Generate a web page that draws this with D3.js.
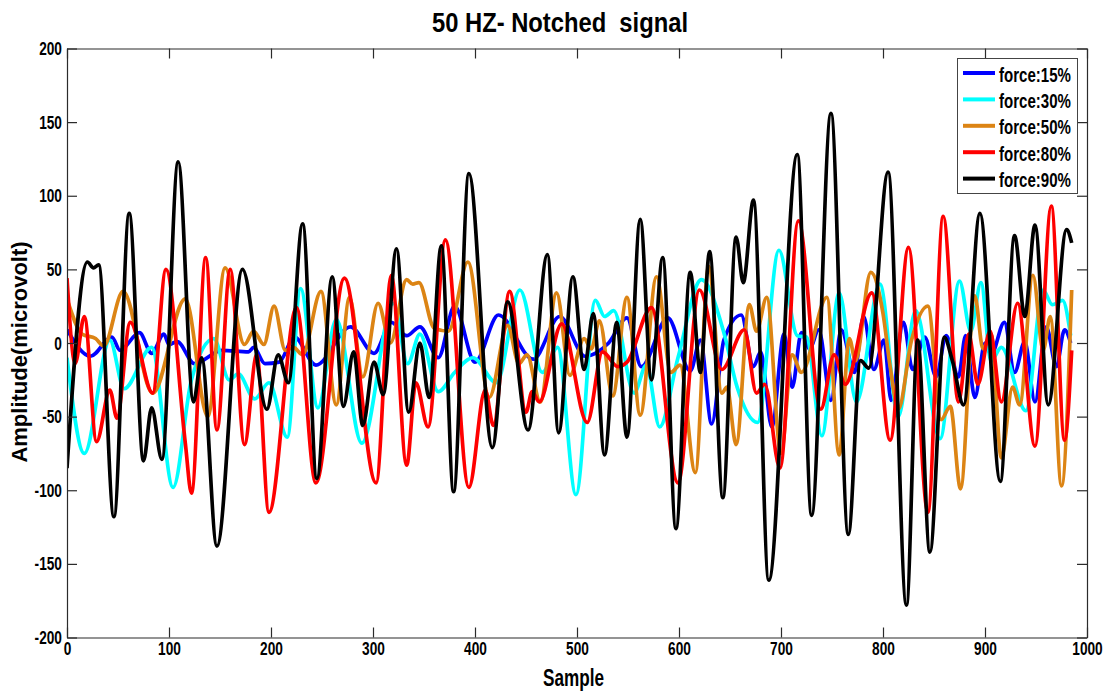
<!DOCTYPE html>
<html>
<head>
<meta charset="utf-8">
<script src="https://cdn.jsdelivr.net/npm/d3@7"></script>
<style>
  body { margin: 0; background: #fff; }
  text { font-family: "Liberation Sans", Arial, sans-serif; font-weight: bold; fill: #000; }
</style>
</head>
<body>
<script>
// Values: [sample, amplitude] at turning points
var force15 = [[0,9],[23,-9],[44,4],[52,-5],[71,7],[83,-7],[95,6],[100,-1],[108,1],[125,-14],[152,-5],[178,-6],[183,-3],[194,-14],[208,-13],[223,4],[244,-15],[278,11],[301,-7],[318,14],[333,5],[346,11],[364,-10],[380,25],[400,-13],[423,19],[457,-11],[483,18],[508,-9],[531,0],[549,17],[563,-16],[589,17],[611,-19],[621,2],[632,-55],[644,2],[661,19],[673,-16],[680,-6],[691,-57],[703,6],[711,-30],[720,7],[728,-4],[737,9],[749,-39],[759,9],[772,-20],[781,18],[791,-18],[801,2],[808,-39],[820,14],[829,-18],[841,4],[852,-23],[862,5],[874,-23],[881,5],[890,-37],[900,0],[906,-8],[919,14],[929,-20],[939,1],[949,-40],[960,11],[970,-16],[978,9],[984,0]];

var force30 = [[0,-10],[17,-75],[42,2],[56,-31],[83,-3],[104,-98],[122,-25],[144,3],[159,-25],[168,-21],[184,-38],[198,-27],[216,-64],[229,37],[246,-44],[264,16],[289,-68],[320,27],[334,-14],[346,6],[364,-33],[380,-20],[398,-10],[421,-27],[444,36],[466,-20],[481,-3],[499,-103],[518,29],[527,18],[536,22],[556,-34],[568,-15],[581,-57],[599,-10],[622,43],[644,7],[657,-30],[677,-54],[698,63],[716,5],[725,4],[740,-63],[757,34],[774,-40],[797,40],[815,-50],[832,22],[856,-65],[875,42],[886,8],[896,41],[906,-12],[916,-3],[940,-46],[957,36],[966,26],[976,29],[984,5]];

var force50 = [[0,30],[15,6],[28,3],[36,-2],[55,35],[84,-34],[116,30],[138,-50],[155,51],[174,-1],[183,8],[193,-1],[203,25],[214,-5],[222,-3],[231,-8],[249,35],[264,-42],[277,31],[290,-23],[305,27],[317,0],[333,43],[339,40],[345,41],[360,10],[374,8],[393,55],[414,-37],[432,12],[443,-14],[451,-8],[464,-40],[480,34],[493,-22],[507,3],[514,-4],[522,15],[535,-36],[549,31],[562,-49],[578,45],[592,-20],[601,-15],[616,-88],[629,52],[642,-34],[647,-30],[656,-69],[669,26],[676,8],[686,31],[700,-75],[711,-8],[720,-20],[745,31],[757,-76],[767,3],[773,-12],[788,48],[800,20],[807,-16],[815,-45],[828,2],[844,25],[857,-52],[866,-43],[876,-99],[890,32],[898,-4],[906,6],[916,-78],[927,-30],[934,-42],[947,46],[957,-5],[964,18],[975,-97],[985,36]];

var force80 = [[0,44],[8,-14],[17,18],[29,-67],[42,-32],[49,-51],[62,14],[84,-34],[97,50],[116,-68],[122,-102],[136,58],[147,-59],[160,50],[174,-69],[186,-8],[198,-115],[225,24],[244,-95],[272,44],[303,-95],[318,46],[333,-83],[342,-27],[354,-57],[371,70],[394,-98],[410,-32],[418,-56],[434,35],[450,-47],[456,-33],[463,-40],[485,13],[510,-54],[525,-6],[540,-16],[549,-13],[573,24],[599,-95],[620,36],[642,-18],[664,9],[676,-34],[684,-28],[699,-85],[717,83],[739,-45],[752,-8],[763,-28],[789,34],[807,-66],[825,65],[844,-115],[859,86],[874,-40],[884,6],[893,-28],[905,8],[916,-40],[932,27],[949,-70],[965,93],[978,-66],[985,-5]];

var force90 = [[0,-85],[20,55],[26,51],[31,53],[46,-118],[61,88],[75,-80],[83,-44],[93,-79],[109,123],[124,-40],[132,-10],[147,-138],[172,50],[196,-45],[207,-8],[217,-27],[231,81],[245,-92],[260,45],[271,-43],[281,-6],[290,-56],[301,-13],[310,-35],[323,64],[335,-47],[346,0],[355,-37],[367,66],[379,-101],[394,115],[417,-71],[432,28],[452,-59],[471,60],[482,-61],[496,45],[507,-18],[516,20],[527,-76],[539,14],[549,-64],[562,84],[573,-25],[584,58],[597,-126],[611,48],[621,-20],[630,62],[643,-105],[656,72],[663,41],[673,97],[688,-161],[716,128],[730,-117],[749,156],[766,-130],[778,-12],[786,-17],[805,116],[823,-178],[834,2],[846,-142],[860,4],[868,-12],[879,-42],[895,88],[915,-94],[929,73],[939,18],[949,80],[962,-42],[980,77],[985,68]];

var seriesNames = ["force:15%", "force:30%", "force:50%", "force:80%", "force:90%"];
var seriesColors = ["#0000ff", "#00ffff", "#dc8414", "#ff0000", "#000000"];
var seriesData = [force15, force30, force50, force80, force90];

var xTicks = [0, 100, 200, 300, 400, 500, 600, 700, 800, 900, 1000];
var yTicks = [-200, -150, -100, -50, 0, 50, 100, 150, 200];

// Chart Params
var svgWidth = 1103;
var svgHeight = 691;
var margin = { top: 48.5, right: 16, bottom: 53.5, left: 67 };
var width = svgWidth - margin.left - margin.right;
var height = svgHeight - margin.top - margin.bottom;

var svg = d3.select("body")
  .append("svg")
  .attr("width", svgWidth)
  .attr("height", svgHeight);

var chartGroup = svg.append("g")
  .attr("transform", `translate(${margin.left}, ${margin.top})`);

var x = d3.scaleLinear().domain([0, 1000]).range([0, width]);
var y = d3.scaleLinear().domain([-200, 200]).range([height, 0]);

// clip so nothing spills past the frame
chartGroup.append("clipPath").attr("id", "plotClip")
  .append("rect").attr("width", width).attr("height", height);

var line = d3.line()
  .x(d => x(d[0]))
  .y(d => y(d[1]))
  .curve(d3.curveMonotoneX);

chartGroup.append("g")
  .attr("clip-path", "url(#plotClip)")
  .selectAll("path")
  .data(seriesData)
  .enter()
  .append("path")
  .attr("d", line)
  .attr("fill", "none")
  .attr("stroke", (d, i) => seriesColors[i])
  .attr("stroke-width", 3.7)
  .attr("stroke-linejoin", "round");

// axes, MATLAB style: ticks pointing in, on all four sides
var axisColor = "#2b2b2b";
function styleAxis(g) {
  g.selectAll("path, line").attr("stroke", axisColor).attr("stroke-width", 1.2);
}
var plainFormat = d => String(d);

var xAxis = chartGroup.append("g")
  .attr("transform", `translate(0, ${height})`)
  .call(d3.axisBottom(x).tickValues(xTicks).tickFormat(plainFormat).tickSizeInner(-10).tickSizeOuter(0).tickPadding(4))
  .call(styleAxis);

var yAxis = chartGroup.append("g")
  .call(d3.axisLeft(y).tickValues(yTicks).tickFormat(plainFormat).tickSizeInner(-10).tickSizeOuter(0).tickPadding(7))
  .call(styleAxis);

chartGroup.append("g")
  .call(d3.axisTop(x).tickValues(xTicks).tickSizeInner(-10).tickSizeOuter(0).tickFormat(""))
  .call(styleAxis);

chartGroup.append("g")
  .attr("transform", `translate(${width}, 0)`)
  .call(d3.axisRight(y).tickValues(yTicks).tickSizeInner(-10).tickSizeOuter(0).tickFormat(""))
  .call(styleAxis);

// condensed bold tick labels
[xAxis, yAxis].forEach(function(ax) {
  ax.selectAll("text")
    .attr("font-size", 19)
    .attr("font-weight", "bold")
    .attr("font-family", "Liberation Sans, Arial, sans-serif")
    .attr("fill", "#000")
    .attr("transform", "scale(0.72,1)");
});

// title and axis labels
svg.append("text")
  .attr("x", 432)
  .attr("y", 32)
  .attr("font-size", 28)
  .attr("textLength", 256)
  .attr("lengthAdjust", "spacingAndGlyphs")
  .style("white-space", "pre")
  .text("50 HZ- Notched  signal");

svg.append("text")
  .attr("x", 543)
  .attr("y", 686)
  .attr("font-size", 23)
  .attr("textLength", 61)
  .attr("lengthAdjust", "spacingAndGlyphs")
  .text("Sample");

svg.append("text")
  .attr("transform", "translate(27, 352) rotate(-90)")
  .attr("text-anchor", "middle")
  .attr("font-size", 22)
  .text("Amplitude(microvolt)");

// legend
var legend = svg.append("g");
legend.append("rect")
  .attr("x", 957.5)
  .attr("y", 58.5)
  .attr("width", 120)
  .attr("height", 135)
  .attr("fill", "#fff")
  .attr("stroke", "#444")
  .attr("stroke-width", 1);

var entries = legend.selectAll("g.entry")
  .data(seriesNames)
  .enter()
  .append("g")
  .attr("class", "entry")
  .attr("transform", (d, i) => `translate(0, ${73 + i * 26.4})`);

entries.append("line")
  .attr("x1", 963).attr("x2", 995)
  .attr("y1", 0).attr("y2", 0)
  .attr("stroke", (d, i) => seriesColors[i])
  .attr("stroke-width", 4);

entries.append("text")
  .attr("x", 999)
  .attr("y", 8.5)
  .attr("font-size", 20)
  .attr("textLength", 72)
  .attr("lengthAdjust", "spacingAndGlyphs")
  .text(d => d);
</script>
</body>
</html>
